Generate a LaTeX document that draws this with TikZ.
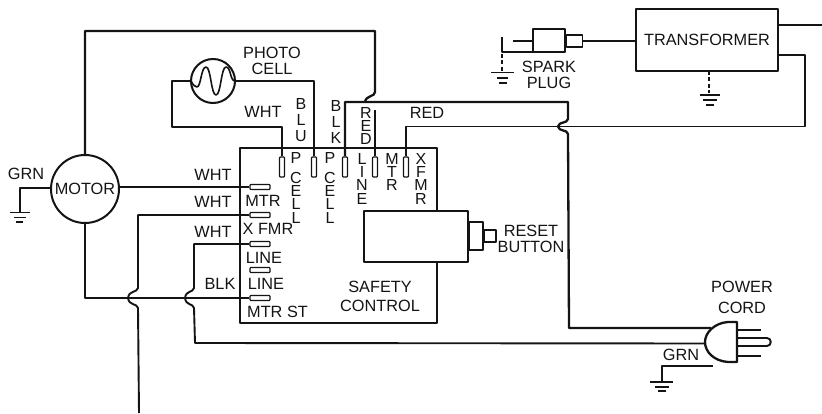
\documentclass[tikz,border=0pt]{standalone}
\usepackage{fontspec}
\setmainfont{Liberation Sans}
\begin{document}
\begin{tikzpicture}[x=1pt,y=-1pt,line join=round,
  wire/.style={line width=1.9pt,black!92},
  heavy/.style={line width=2.3pt,black!92},
  term/.style={draw=black!92,line width=1.2pt,fill=white,rounded corners=0.8pt},
  lab/.style={inner sep=0pt,font=\fontsize{16.3}{16}\selectfont,align=center,black!92},
  vlab/.style={inner sep=0pt,font=\fontsize{16}{13.3}\selectfont,align=center,black!92,anchor=north},
  gnd/.style={line width=1.7pt,black!92},
  dashw/.style={line width=1.9pt,black!92,dash pattern=on 4pt off 2.5pt}]
\useasboundingbox (0,0) rectangle (822,414);
\fill[white] (0,0) rectangle (822,414);
% control box
\draw[heavy] (437,212) -- (437,148) -- (240,148) -- (240,323) -- (437,323) -- (437,262);
\node[draw=black!92,line width=2.2pt,minimum width=104pt,minimum height=51pt,inner sep=0pt] (reset) at (416,236.5) {};
\node[draw=black!92,line width=1.9pt,minimum width=14pt,minimum height=28pt,inner sep=0pt,anchor=west] (btn) at (468,236) {};
\node[draw=black!92,line width=1.8pt,minimum width=12pt,minimum height=12pt,inner sep=0pt,anchor=west] (btn2) at (483,236) {};
% motor
\node[draw=black!92,line width=2pt,circle,minimum size=68pt,inner sep=0pt,lab] (motor) at (85,189) {MOTOR};
% terminals
\foreach \n/\x in {tp/282,tq/314,tr/345,ts/375,tt/406}
  \node[term,minimum width=5pt,minimum height=20pt,inner sep=0pt] (\n) at (\x,167) {};
\foreach \n/\y in {ha/187,hb/215,hc/244,hd/270,he/298}
  \node[term,minimum width=20pt,minimum height=5pt,inner sep=0pt] (\n) at (260,\y) {};
% photocell
\node[draw=black!92,line width=2pt,circle,minimum size=44pt,inner sep=0pt] (pc) at (213,81) {};
\draw[line width=1.6pt,black!92] (191,81) .. controls (193,85) and (195,87) .. (197,87)
  .. controls (201,87) and (201,67) .. (206,67) .. controls (211,67) and (211,95) .. (216,95)
  .. controls (221,95) and (221,67) .. (226,67) .. controls (231,67) and (230,81) .. (235,81);
\coordinate (a1) at (172,127);
\draw[wire] (pc.west) -| (a1) -| (tp.north);
\draw[wire] (pc.east) -| (tq.north);
% motor top wire
\coordinate (m1) at (375,31);
\draw[heavy] (motor.north) |- (m1) -- (375,92) .. controls (375,97) and (366,95) .. (365,102);
% black wire to plug
\coordinate (j1a) at (568,119);
\coordinate (j1b) at (568,134);
\coordinate (j1m) at (558,126.5);
\draw[heavy] (tr.north) -- (345,102) -- (568,102) -- (j1a) .. controls (567,124) and (559,121) .. (j1m) .. controls (559,132) and (567,129) .. (j1b) -- (569,328) -- (711,328);
% short MTR lead
\draw[line width=1.4pt,black!92] (ts.north) -- (375,110);
% red wire to transformer
\node[draw=black!92,line width=2.1pt,minimum width=142pt,minimum height=62pt,inner sep=0pt,lab] (tf) at (707,40) {TRANSFORMER};
\draw[wire] (tt.north) |- (j1m) -- (805,126.5) |- (778,55);
\coordinate (tfout) at (822,25);
\draw[wire] (778,25) -- (tfout);
% spark plug
\node[draw=black!92,line width=2pt,minimum width=32pt,minimum height=23pt,inner sep=0pt] (sp) at (548.5,41) {};
\node[draw=black!92,line width=1.7pt,minimum width=16pt,minimum height=12pt,inner sep=0pt,anchor=west] (tip) at (sp.east) {};
\draw[wire] (tip.east) -- (tf.west|-tip.east);
\draw[wire] (513,41) -- (sp.west);
\draw[wire] (502,37) -- (502,52) -- (533,52);
\draw[dashw] (502,54) -- (502,71);
\draw[gnd] (491,72.5) -- (514,72.5) (497,78) -- (508,78) (499,83) -- (507,83);
% transformer ground
\draw[dashw] (709,71) -- (709,93);
\draw[gnd] (700,95) -- (720,95) (703,100) -- (717,100) (706,105) -- (714,105);
% horizontal wires
\draw[wire] (motor.east|-ha.west) -- (ha.west);
\draw[wire] (hb.west) -- (138,215) -- (138,288) .. controls (137,293) and (129,290) .. (128,298) .. controls (129,306) and (137,303) .. (138,308) -- (139,413);
\draw[heavy] (motor.south) |- (he.west);
\draw[wire] (hc.west) -- (194,244) -- (194,288) .. controls (193,293) and (186,290) .. (185,298) .. controls (186,306) and (193,303) .. (194,308) -- (195,343) -- (706,343.5);
% motor ground
\draw[wire] (motor.west|-0,188) -- (20,188) -- (20,212);
\draw[gnd] (10,212.5) -- (30,212.5) (14,217.5) -- (26,217.5) (16,222) -- (23,222);
% plug
\draw[heavy,fill=white] (737,322) -- (728,322) .. controls (714,323) and (705,333) .. (705,342) .. controls (705,352) and (714,361) .. (728,362) -- (737,362) -- cycle;
\draw[wire] (737,330) -- (761,330) (737,356) -- (761,356);
\draw[wire] (737,338) -- (767,338) .. controls (772,338) and (772,346) .. (767,346) -- (737,346);
\draw[line width=1.5pt,black!92] (713,366) -- (662,366) -- (662,381);
\draw[gnd] (650,382) -- (673,382) (655,387) -- (669,387) (658,391) -- (666,391);
% labels
\node[lab] at (26,174) {GRN};
\node[lab] at (213,175) {WHT};
\node[lab] at (213,202) {WHT};
\node[lab] at (213,232) {WHT};
\node[lab] at (220,284) {BLK};
\node[lab] at (263,201) {MTR};
\node[lab] at (268,229) {X FMR};
\node[lab] at (264,258) {LINE};
\node[lab] at (266,284) {LINE};
\node[lab,anchor=west] at (247,312) {MTR ST};
\node[lab] at (272,61) {PHOTO\\CELL};
\node[lab] at (263,112) {WHT};
\node[lab] at (427,113) {RED};
\node[vlab,font=\fontsize{16}{16}\selectfont] at (301,98) {B\\L\\U};
\node[vlab,font=\fontsize{16}{16}\selectfont] at (336,100) {B\\L\\K};
\node[vlab] at (366,107) {R\\E\\D};
\node[vlab] at (296,152) {P};
\node[vlab] at (296,172) {C\\E\\L\\L};
\node[vlab] at (330,152) {P};
\node[vlab] at (330,172) {C\\E\\L\\L};
\node[vlab] at (362,153) {L\\I\\N\\E};
\node[vlab] at (392,153) {M\\T\\R};
\node[vlab] at (421,153) {X\\F\\M\\R};
\node[lab,font=\fontsize{16.3}{19}\selectfont] at (380,296.5) {SAFETY\\CONTROL};
\node[lab] at (531,239) {RESET\\BUTTON};
\node[lab] at (549,75) {SPARK\\PLUG};
\node[lab,font=\fontsize{16.3}{21}\selectfont] at (742,297.5) {POWER\\CORD};
\node[lab] at (681,355) {GRN};
\end{tikzpicture}
\end{document}
